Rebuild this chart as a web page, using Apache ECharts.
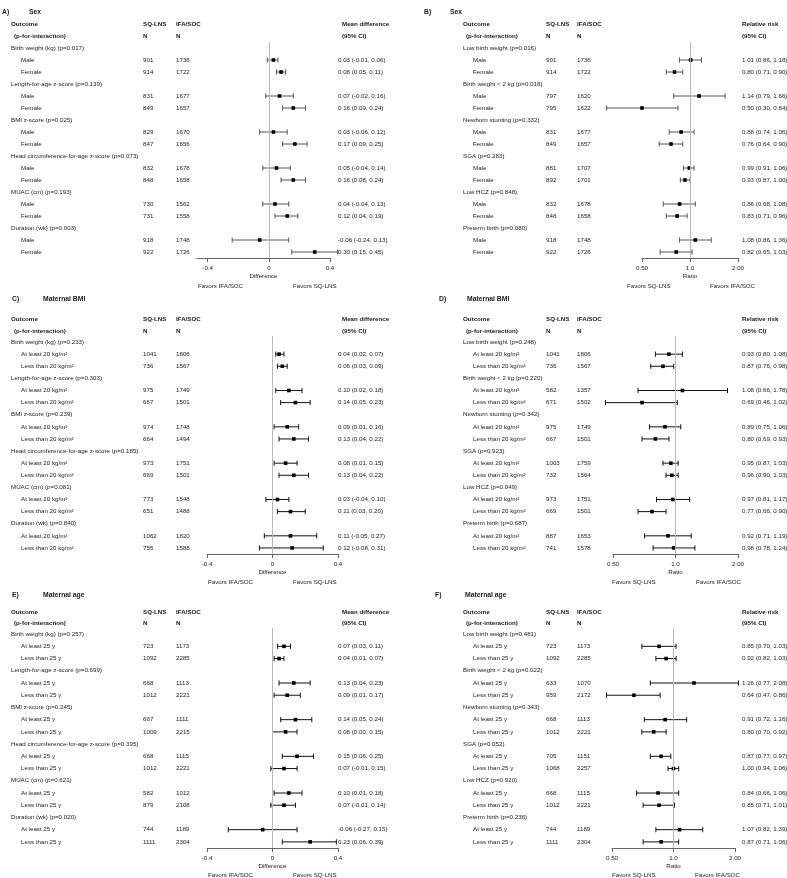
<!DOCTYPE html>
<html><head><meta charset="utf-8">
<script src="https://cdn.jsdelivr.net/npm/echarts@6/dist/echarts.min.js"></script>
<style>html,body{margin:0;padding:0;background:#fff}#c{width:787px;height:878px}</style>
</head><body><div id="c"></div>
<script>
// ---------- DATA ----------
const diffTickValues = [-0.4, 0, 0.4];
const diffTickLabels = ["-0.4", "0", "0.4"];
const ratioTickValues = [0.5, 1, 2];
const ratioTickLabels = ["0.50", "1.0", "2.00"];

const outcomesA = ["Birth weight (kg) (p=0.017)", "Length-for-age z-score (p=0.139)", "BMI z-score (p=0.025)", "Head circumference-for-age z-score (p=0.073)", "MUAC (cm) (p=0.193)", "Duration (wk) (p=0.003)"];
const subgroupsSex = ["Male", "Female"];
const nSqA = [901, 914, 831, 849, 829, 847, 832, 848, 730, 731, 918, 922];
const nIfaA = [1736, 1722, 1677, 1657, 1670, 1656, 1678, 1658, 1562, 1558, 1748, 1726];
const estA = [0.03, 0.08, 0.07, 0.16, 0.03, 0.17, 0.05, 0.16, 0.04, 0.12, -0.06, 0.30];
const lowA = [-0.01, 0.05, -0.02, 0.09, -0.06, 0.09, -0.04, 0.08, -0.04, 0.04, -0.24, 0.15];
const highA = [0.06, 0.11, 0.16, 0.24, 0.12, 0.25, 0.14, 0.24, 0.13, 0.19, 0.13, 0.45];

const outcomesB = ["Low birth weight (p=0.016)", "Birth weight < 2 kg (p=0.018)", "Newborn stunting (p=0.332)", "SGA (p=0.283)", "Low HCZ (p=0.848)", "Preterm birth (p=0.080)"];
const nSqB = [901, 914, 797, 795, 831, 849, 881, 892, 832, 848, 918, 922];
const nIfaB = [1736, 1722, 1620, 1622, 1677, 1657, 1707, 1701, 1678, 1658, 1748, 1726];
const estB = [1.01, 0.80, 1.14, 0.50, 0.88, 0.76, 0.99, 0.93, 0.86, 0.83, 1.08, 0.82];
const lowB = [0.86, 0.71, 0.79, 0.30, 0.74, 0.64, 0.91, 0.87, 0.68, 0.71, 0.86, 0.65];
const highB = [1.18, 0.90, 1.66, 0.84, 1.06, 0.90, 1.06, 1.00, 1.08, 0.96, 1.36, 1.03];

const outcomesC = ["Birth weight (kg) (p=0.233)", "Length-for-age z-score (p=0.303)", "BMI z-score (p=0.239)", "Head circumference-for-age z-score (p=0.185)", "MUAC (cm) (p=0.081)", "Duration (wk) (p=0.840)"];
const subgroupsBmi = ["At least 20 kg/m\u00b2", "Less than 20 kg/m\u00b2"];
const nSqC = [1041, 736, 975, 667, 974, 664, 973, 669, 773, 651, 1062, 755];
const nIfaC = [1806, 1567, 1749, 1501, 1748, 1494, 1751, 1501, 1548, 1488, 1820, 1588];
const estC = [0.04, 0.06, 0.10, 0.14, 0.09, 0.13, 0.08, 0.13, 0.03, 0.11, 0.11, 0.12];
const lowC = [0.02, 0.03, 0.02, 0.05, 0.01, 0.04, 0.01, 0.04, -0.04, 0.03, -0.05, -0.08];
const highC = [0.07, 0.09, 0.18, 0.23, 0.16, 0.22, 0.15, 0.22, 0.10, 0.20, 0.27, 0.31];

const outcomesD = ["Low birth weight (p=0.248)", "Birth weight < 2 kg (p=0.220)", "Newborn stunting (p=0.342)", "SGA (p=0.923)", "Low HCZ (p=0.049)", "Preterm birth (p=0.687)"];
const nSqD = [1041, 736, 582, 671, 975, 667, 1003, 732, 973, 669, 887, 741];
const nIfaD = [1806, 1567, 1357, 1502, 1749, 1501, 1759, 1564, 1751, 1501, 1653, 1578];
const estD = [0.93, 0.87, 1.08, 0.69, 0.89, 0.80, 0.95, 0.96, 0.97, 0.77, 0.92, 0.98];
const lowD = [0.80, 0.76, 0.66, 0.46, 0.75, 0.69, 0.87, 0.90, 0.81, 0.66, 0.71, 0.78];
const highD = [1.08, 0.98, 1.78, 1.02, 1.06, 0.93, 1.03, 1.03, 1.17, 0.90, 1.19, 1.24];

const outcomesE = ["Birth weight (kg) (p=0.257)", "Length-for-age z-score (p=0.699)", "BMI z-score (p=0.245)", "Head circumference-for-age z-score (p=0.395)", "MUAC (cm) (p=0.621)", "Duration (wk) (p=0.020)"];
const subgroupsAge = ["At least 25 y", "Less than 25 y"];
const nSqE = [723, 1092, 668, 1012, 667, 1009, 668, 1012, 582, 879, 744, 1111];
const nIfaE = [1173, 2285, 1113, 2221, 1111, 2215, 1115, 2221, 1012, 2108, 1189, 2304];
const estE = [0.07, 0.04, 0.13, 0.09, 0.14, 0.08, 0.15, 0.07, 0.10, 0.07, -0.06, 0.23];
const lowE = [0.03, 0.01, 0.04, 0.01, 0.05, 0.00, 0.06, -0.01, 0.01, -0.01, -0.27, 0.06];
const highE = [0.11, 0.07, 0.23, 0.17, 0.24, 0.15, 0.25, 0.15, 0.18, 0.14, 0.15, 0.39];

const outcomesF = ["Low birth weight (p=0.481)", "Birth weight < 2 kg (p=0.022)", "Newborn stunting (p=0.343)", "SGA (p=0.052)", "Low HCZ (p=0.920)", "Preterm birth (p=0.236)"];
const nSqF = [723, 1092, 633, 959, 668, 1012, 705, 1068, 668, 1012, 744, 1111];
const nIfaF = [1173, 2285, 1070, 2172, 1113, 2221, 1151, 2257, 1115, 2221, 1189, 2304];
const estF = [0.85, 0.92, 1.26, 0.64, 0.91, 0.80, 0.87, 1.00, 0.84, 0.85, 1.07, 0.87];
const lowF = [0.70, 0.82, 0.77, 0.47, 0.72, 0.70, 0.77, 0.94, 0.66, 0.71, 0.82, 0.71];
const highF = [1.03, 1.03, 2.08, 0.86, 1.16, 0.92, 0.97, 1.06, 1.06, 1.01, 1.39, 1.06];

// ---------- LAYOUT ----------
const FAM = '"Liberation Sans", Arial, Helvetica, sans-serif';
const FS = 6.2;
const fontN = FS + 'px ' + FAM;
const fontB = 'bold ' + FS + 'px ' + FAM;
const fontT = 'bold 6.8px ' + FAM;
const TXT = '#1a1a1a';

const leftCols = {label: 11, sub: 21, nSq: 143, nIfa: 176, ci: 338, hdrCI: 342};
const rightCols = {label: 463, sub: 473, nSq: 546, nIfa: 577, ci: 742, hdrCI: 742};

const panels = [
  {letter: 'A)', name: 'Sex', tx: [2, 29], ty: 12, hy: [24, 36], cols: leftCols, kind: 'diff',
   grid: {left: 197, width: 133, top: 42, height: 216}, min: -0.47, max: 0.4, bar: '#555',
   favY: 286, fav: [[198, 'Favors IFA/SOC'], [293, 'Favors SQ-LNS']],
   outcomes: outcomesA, subs: subgroupsSex, nSq: nSqA, nIfa: nIfaA, est: estA, low: lowA, high: highA},
  {letter: 'B)', name: 'Sex', tx: [424, 450], ty: 12, hy: [24, 36], cols: rightCols, kind: 'ratio',
   grid: {left: 642, width: 96, top: 42, height: 216}, min: 0.5, max: 2, bar: '#555',
   favY: 286, fav: [[627, 'Favors SQ-LNS'], [710, 'Favors IFA/SOC']],
   outcomes: outcomesB, subs: subgroupsSex, nSq: nSqB, nIfa: nIfaB, est: estB, low: lowB, high: highB},
  {letter: 'C)', name: 'Maternal BMI', tx: [12, 43], ty: 299, hy: [319, 331], cols: leftCols, kind: 'diff',
   grid: {left: 207, width: 131, top: 336, height: 218}, min: -0.4, max: 0.4, bar: '#111',
   favY: 582, fav: [[208, 'Favors IFA/SOC'], [293, 'Favors SQ-LNS']],
   outcomes: outcomesC, subs: subgroupsBmi, nSq: nSqC, nIfa: nIfaC, est: estC, low: lowC, high: highC},
  {letter: 'D)', name: 'Maternal BMI', tx: [439, 467], ty: 299, hy: [319, 331], cols: rightCols, kind: 'ratio',
   grid: {left: 613, width: 125, top: 336, height: 218}, min: 0.5, max: 2, bar: '#111',
   favY: 582, fav: [[612, 'Favors SQ-LNS'], [696, 'Favors IFA/SOC']],
   outcomes: outcomesD, subs: subgroupsBmi, nSq: nSqD, nIfa: nIfaD, est: estD, low: lowD, high: highD},
  {letter: 'E)', name: 'Maternal age', tx: [12, 43], ty: 595, hy: [612, 623], cols: leftCols, kind: 'diff',
   grid: {left: 207, width: 131, top: 628, height: 220}, min: -0.4, max: 0.4, bar: '#111',
   favY: 875, fav: [[208, 'Favors IFA/SOC'], [293, 'Favors SQ-LNS']],
   outcomes: outcomesE, subs: subgroupsAge, nSq: nSqE, nIfa: nIfaE, est: estE, low: lowE, high: highE},
  {letter: 'F)', name: 'Maternal age', tx: [435, 465], ty: 595, hy: [612, 623], cols: rightCols, kind: 'ratio',
   grid: {left: 612, width: 123, top: 628, height: 220}, min: 0.5, max: 2, bar: '#111',
   favY: 875, fav: [[612, 'Favors SQ-LNS'], [695, 'Favors IFA/SOC']],
   outcomes: outcomesF, subs: subgroupsAge, nSq: nSqF, nIfa: nIfaF, est: estF, low: lowF, high: highF}
];

const grids = [], xAxes = [], yAxes = [], series = [], graphics = [];

function gtext(x, y, text, font) {
  graphics.push({type: 'text', x: x, y: y, silent: true,
    style: {text: text, font: font, fill: TXT, align: 'left', verticalAlign: 'middle'}});
}

panels.forEach((p, pi) => {
  const nRows = p.outcomes.length * 3;
  grids.push({left: p.grid.left, top: p.grid.top, width: p.grid.width, height: p.grid.height, containLabel: false});
  const isDiff = p.kind === 'diff';
  const tv = isDiff ? diffTickValues : ratioTickValues;
  const tl = isDiff ? diffTickLabels : ratioTickLabels;
  xAxes.push({
    gridIndex: pi, type: isDiff ? 'value' : 'log', logBase: 2, min: p.min, max: p.max,
    position: 'bottom',
    axisLine: {show: true, onZero: false, lineStyle: {color: '#666', width: 1}},
    axisTick: {show: true, inside: false, length: 4, customValues: tv, lineStyle: {color: '#666', width: 1}},
    axisLabel: {show: true, customValues: tv, margin: 7, fontSize: FS, fontFamily: FAM, color: TXT,
      formatter: (v) => { const k = tv.findIndex(t => Math.abs(t - v) < 1e-9); return k >= 0 ? tl[k] : ''; }},
    splitLine: {show: false}, minorTick: {show: false},
    name: isDiff ? 'Difference' : 'Ratio', nameLocation: 'middle', nameGap: 15,
    nameTextStyle: {fontSize: FS, fontFamily: FAM, color: TXT}
  });
  yAxes.push({gridIndex: pi, type: 'value', min: -0.5, max: nRows - 0.5, inverse: true, show: false});

  // subgroup rows
  const subData = [];
  const grpData = [];
  p.outcomes.forEach((o, oi) => {
    grpData.push([0, oi * 3, oi]);
    p.subs.forEach((s, si) => {
      const k = oi * 2 + si;
      subData.push([p.est[k], oi * 3 + 1 + si, p.low[k], p.high[k], k]);
    });
  });
  const cols = p.cols;
  series.push({
    type: 'custom', xAxisIndex: pi, yAxisIndex: pi, clip: false, silent: true,
    encode: {x: [0, 2, 3], y: 1},
    data: subData,
    renderItem: (params, api) => {
      const est = api.value(0), row = api.value(1), lo = api.value(2), hi = api.value(3), k = api.value(4);
      const pe = api.coord([est, row]), pl = api.coord([lo, row]), ph = api.coord([hi, row]);
      const y = pe[1];
      const cap = 2.6, sq = 3.6;
      const subIdx = k % 2;
      const ciText = p.est[k].toFixed(2) + ' (' + p.low[k].toFixed(2) + ', ' + p.high[k].toFixed(2) + ')';
      const ls = {stroke: p.bar, lineWidth: 1};
      return {type: 'group', children: [
        {type: 'line', shape: {x1: pl[0], y1: y, x2: ph[0], y2: y}, style: ls},
        {type: 'line', shape: {x1: pl[0], y1: y - cap, x2: pl[0], y2: y + cap}, style: ls},
        {type: 'line', shape: {x1: ph[0], y1: y - cap, x2: ph[0], y2: y + cap}, style: ls},
        {type: 'rect', shape: {x: pe[0] - sq / 2, y: y - sq / 2, width: sq, height: sq}, style: {fill: '#000'}},
        {type: 'text', style: {text: p.subs[subIdx], x: cols.sub, y: y, font: fontN, fill: TXT, align: 'left', verticalAlign: 'middle'}},
        {type: 'text', style: {text: String(p.nSq[k]), x: cols.nSq, y: y, font: fontN, fill: TXT, align: 'left', verticalAlign: 'middle'}},
        {type: 'text', style: {text: String(p.nIfa[k]), x: cols.nIfa, y: y, font: fontN, fill: TXT, align: 'left', verticalAlign: 'middle'}},
        {type: 'text', style: {text: ciText, x: cols.ci, y: y, font: fontN, fill: TXT, align: 'left', verticalAlign: 'middle'}}
      ]};
    },
    markLine: {
      silent: true, symbol: 'none', animation: false,
      lineStyle: {color: '#b8b8b8', width: 1, type: 'solid'},
      label: {show: false},
      data: [{xAxis: isDiff ? 0 : 1}]
    },
    z: 3
  });
  series.push({
    type: 'custom', xAxisIndex: pi, yAxisIndex: pi, clip: false, silent: true,
    encode: {x: 0, y: 1},
    data: grpData,
    renderItem: (params, api) => {
      const row = api.value(1), oi = api.value(2);
      const y = api.coord([isDiff ? 0 : 1, row])[1];
      return {type: 'text', style: {text: p.outcomes[oi], x: cols.label, y: y, font: fontN, fill: TXT, align: 'left', verticalAlign: 'middle'}};
    }
  });

  // static texts
  gtext(p.tx[0], p.ty, p.letter, fontT);
  gtext(p.tx[1], p.ty, p.name, fontT);
  gtext(cols.label, p.hy[0], 'Outcome', fontB);
  gtext(cols.label + 3, p.hy[1], '(p-for-interaction)', fontB);
  gtext(cols.nSq, p.hy[0], 'SQ-LNS', fontB);
  gtext(cols.nSq, p.hy[1], 'N', fontB);
  gtext(cols.nIfa, p.hy[0], 'IFA/SOC', fontB);
  gtext(cols.nIfa, p.hy[1], 'N', fontB);
  gtext(cols.hdrCI, p.hy[0], isDiff ? 'Mean difference' : 'Relative risk', fontB);
  gtext(cols.hdrCI, p.hy[1], '(95% CI)', fontB);
  p.fav.forEach(f => gtext(f[0], p.favY, f[1], fontN));
});

const chart = echarts.init(document.getElementById('c'), null, {renderer: 'canvas'});
chart.setOption({
  animation: false,
  backgroundColor: '#fff',
  grid: grids, xAxis: xAxes, yAxis: yAxes, series: series, graphic: graphics
});
</script></body></html>
